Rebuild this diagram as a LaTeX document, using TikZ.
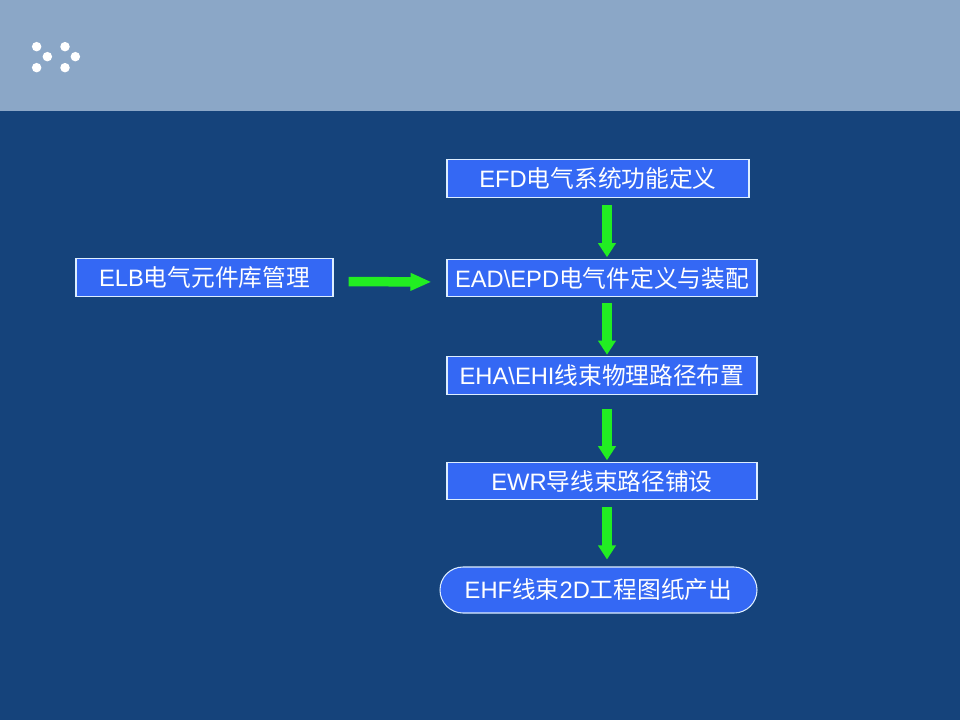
\documentclass[tikz,border=0pt]{standalone}
\usepackage{fontspec}
\setmainfont{Liberation Sans}
\newfontfamily\cjk{Noto Sans CJK SC}
\usepackage{tikz}
\usetikzlibrary{arrows.meta,positioning,shapes.misc}
\usepackage{xcolor}
\definecolor{slideBody}{HTML}{15437B}
\definecolor{slideHead}{HTML}{8BA7C7}
\definecolor{boxFill}{HTML}{3468F4}
\definecolor{boxBorder}{HTML}{DDEEFF}
\definecolor{flowGreen}{HTML}{22EE22}
\tikzset{
    stepbox/.style={rectangle,draw=boxBorder,fill=boxFill,line width=0.6pt,inner sep=0pt,minimum width=6.2cm,minimum height=0.75cm,align=center,text=white,font=\fontsize{13.5}{16}\selectfont},
    endbox/.style={rounded rectangle,draw=boxBorder,fill=boxFill,line width=0.6pt,inner sep=0pt,minimum width=6.34cm,minimum height=0.92cm,align=center,text=white,font=\fontsize{13.5}{16}\selectfont},
    flowarrow/.style={draw=flowGreen,line width=0.19cm,-{Triangle[width=0.34cm,length=0.28cm]}},
    sidearrow/.style={flowarrow,-{Triangle[width=0.33cm,length=0.42cm]}}
}

\begin{document}
\begin{tikzpicture}

    % Slide background and title band
    \fill[slideBody] (0,0) rectangle (19.2,-14.4);
    \fill[slideHead] (0,0) rectangle (19.2,-2.22);
    \foreach \x/\y in {0.733/-0.933, 1.3/-0.933, 0.947/-1.133, 1.507/-1.133, 0.733/-1.353, 1.3/-1.353}
        \fill[white] (\x,\y) circle (0.095);

    % Process steps
    \node[stepbox, minimum width=6.04cm] (efd) at (11.96,-3.57) {EFD{\cjk 电气系统功能定义}};
    \node[stepbox, minimum width=5.14cm] (elb) at (4.09,-5.55) {ELB{\cjk 电气元件库管理}};
    \node[stepbox] (ead) at (12.04,-5.56) {EAD\textbackslash EPD{\cjk 电气件定义与装配}};
    \node[stepbox] (eha) at (12.04,-7.51) {EHA\textbackslash EHI{\cjk 线束物理路径布置}};
    \node[stepbox] (ewr) at (12.04,-9.62) {EWR{\cjk 导线束路径铺设}};
    \node[endbox] (ehf) at (11.97,-11.80) {EHF{\cjk 线束}2D{\cjk 工程图纸产出}};

    % Flow arrows
    \draw[flowarrow, shorten <=0.15cm, shorten >=0.03cm] ([xshift=0.18cm]efd.south) -- ([xshift=0.10cm]ead.north);
    \draw[sidearrow, shorten <=0.3cm, shorten >=0.3cm] ([yshift=-0.08cm]elb.east) -- ([yshift=-0.08cm]ead.west);
    \draw[flowarrow, shorten <=0.12cm, shorten >=0.03cm] ([xshift=0.10cm]ead.south) -- ([xshift=0.10cm]eha.north);
    \draw[flowarrow, shorten <=0.28cm, shorten >=0.03cm] ([xshift=0.10cm]eha.south) -- ([xshift=0.10cm]ewr.north);
    \draw[flowarrow, shorten <=0.14cm, shorten >=0.14cm] ([xshift=0.10cm]ewr.south) -- ([xshift=0.17cm]ehf.north);

\end{tikzpicture}
\end{document}
